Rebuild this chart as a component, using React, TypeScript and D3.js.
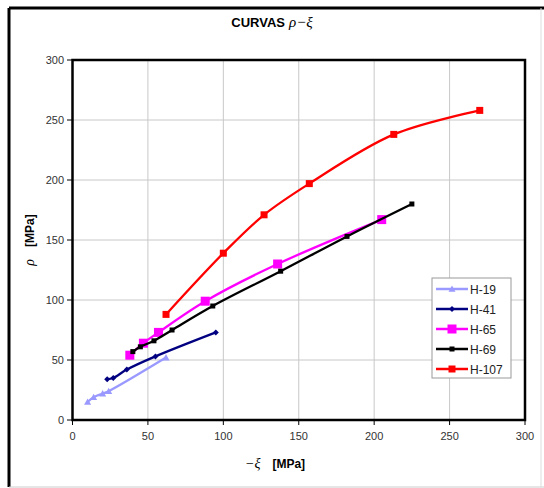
import React from "react";
import * as d3 from "d3";

const xTicks = [0, 50, 100, 150, 200, 250, 300];
const yTicks = [0, 50, 100, 150, 200, 250, 300];

const seriesNames = ["H-19", "H-41", "H-65", "H-69", "H-107"];
const h19X = [10, 14, 20, 24, 62];
const h19Y = [15, 19, 22, 24, 52];
const h41X = [23, 27, 36, 55, 95];
const h41Y = [34, 35, 42, 53, 73];
const h65X = [38, 47, 57, 88, 136, 205];
const h65Y = [54, 64, 73, 99, 130, 167];
const h69X = [40, 45, 54, 66, 93, 138, 182, 225];
const h69Y = [57, 61, 66, 75, 95, 124, 153, 180];
const h107X = [62, 100, 127, 157, 213, 270];
const h107Y = [88, 139, 171, 197, 238, 258];

const colors = ["#9999FF", "#000080", "#FF00FF", "#000000", "#FF0000"];
const markers = ["triangle", "diamond", "bigsquare", "square", "square"];
const markerSize = [3.5, 3, 4.5, 2.5, 3.5];

const series = [
  [h19X, h19Y],
  [h41X, h41Y],
  [h65X, h65Y],
  [h69X, h69Y],
  [h107X, h107Y],
].map(([xs, ys], i) => ({
  name: seriesNames[i],
  color: colors[i],
  marker: markers[i],
  size: markerSize[i],
  pts: xs.map((x, j) => [x, ys[j]] as [number, number]),
}));

const x = d3.scaleLinear().domain([0, 300]).range([72.5, 525]);
const y = d3.scaleLinear().domain([0, 300]).range([420, 60]);

const line = d3
  .line<[number, number]>()
  .x((d) => x(d[0]))
  .y((d) => y(d[1]))
  .curve(d3.curveCatmullRom.alpha(0.5));

function Marker({ type, cx, cy, s, color }: any) {
  if (type === "triangle") {
    return (
      <path
        d={`M${cx},${cy - s} L${cx + s},${cy + s * 0.8} L${cx - s},${cy + s * 0.8} Z`}
        fill={color}
      />
    );
  }
  if (type === "diamond") {
    return (
      <path
        d={`M${cx},${cy - s} L${cx + s},${cy} L${cx},${cy + s} L${cx - s},${cy} Z`}
        fill={color}
      />
    );
  }
  return <rect x={cx - s} y={cy - s} width={2 * s} height={2 * s} fill={color} />;
}

export default function App() {
  const font = "'Liberation Sans', Arial, sans-serif";
  const greek = "'Liberation Serif', 'DejaVu Serif', serif";
  const legX = 432;
  const legY = 278;
  return (
    <svg
      width={544}
      height={488}
      style={{ position: "absolute", left: 0, top: 0, background: "#fff" }}
    >
      {/* outer frame */}
      <line x1={9} y1={8} x2={544} y2={8} stroke="#000" strokeWidth={3} />
      <line x1={9} y1={8} x2={9} y2={487} stroke="#000" strokeWidth={3} />
      <line x1={9} y1={487} x2={544} y2={487} stroke="#ccc" strokeWidth={1} />
      <line x1={541} y1={8} x2={541} y2={487} stroke="#ddd" strokeWidth={1} />

      {/* title */}
      <text x={272} y={27} textAnchor="middle" fontFamily={font} fontSize={13} fontWeight="bold">
        CURVAS
        <tspan dx={4} fontFamily={greek} fontStyle="italic" fontWeight="normal" fontSize={15}>
          ρ−ξ
        </tspan>
      </text>

      {/* grid */}
      {xTicks.map((t) => (
        <line key={"gx" + t} x1={x(t)} x2={x(t)} y1={60} y2={420} stroke="#c8c8c8" strokeWidth={1} />
      ))}
      {yTicks.map((t) => (
        <line key={"gy" + t} x1={72.5} x2={525} y1={y(t)} y2={y(t)} stroke="#c8c8c8" strokeWidth={1} />
      ))}

      {/* plot frame */}
      <rect x={72.5} y={60} width={525 - 72.5} height={360} fill="none" stroke="#000" strokeWidth={2.5} />

      {/* ticks */}
      {yTicks.map((t) => (
        <g key={"ty" + t}>
          <line x1={67} x2={72.5} y1={y(t)} y2={y(t)} stroke="#000" />
          <text x={64} y={y(t) + 4} textAnchor="end" fontFamily={font} fontSize={11} fill="#333">
            {t}
          </text>
        </g>
      ))}
      {xTicks.map((t) => (
        <g key={"tx" + t}>
          <line x1={x(t)} x2={x(t)} y1={420} y2={425} stroke="#000" />
          <text x={x(t)} y={440} textAnchor="middle" fontFamily={font} fontSize={11} fill="#333">
            {t}
          </text>
        </g>
      ))}

      {/* axis labels */}
      <text x={275} y={468} textAnchor="middle" fontFamily={font} fontSize={12} fontWeight="bold">
        <tspan fontFamily={greek} fontStyle="italic" fontWeight="normal" fontSize={14}>
          −ξ
        </tspan>
        <tspan dx={12}>[MPa]</tspan>
      </text>
      <text
        transform="translate(34,240) rotate(-90)"
        textAnchor="middle"
        fontFamily={font}
        fontSize={12}
        fontWeight="bold"
      >
        <tspan fontFamily={greek} fontStyle="italic" fontWeight="normal" fontSize={14}>
          ρ
        </tspan>
        <tspan dx={12}>[MPa]</tspan>
      </text>

      {/* series */}
      {series.map((s) => (
        <g key={s.name}>
          <path d={line(s.pts) || ""} fill="none" stroke={s.color} strokeWidth={2.3} />
          {s.pts.map((p, j) => (
            <Marker key={j} type={s.marker} cx={x(p[0])} cy={y(p[1])} s={s.size} color={s.color} />
          ))}
        </g>
      ))}

      {/* legend */}
      <rect x={legX} y={legY} width={79} height={100} fill="#fff" stroke="#999" strokeWidth={1} />
      {series.map((s, i) => {
        const cy = legY + 11 + i * 20;
        return (
          <g key={"leg" + s.name}>
            <line x1={legX + 4} x2={legX + 36} y1={cy} y2={cy} stroke={s.color} strokeWidth={2.5} />
            <Marker type={s.marker} cx={legX + 20} cy={cy} s={s.size} color={s.color} />
            <text x={legX + 38} y={cy + 4.5} fontFamily={font} fontSize={12} fill="#222">
              {s.name}
            </text>
          </g>
        );
      })}
    </svg>
  );
}
